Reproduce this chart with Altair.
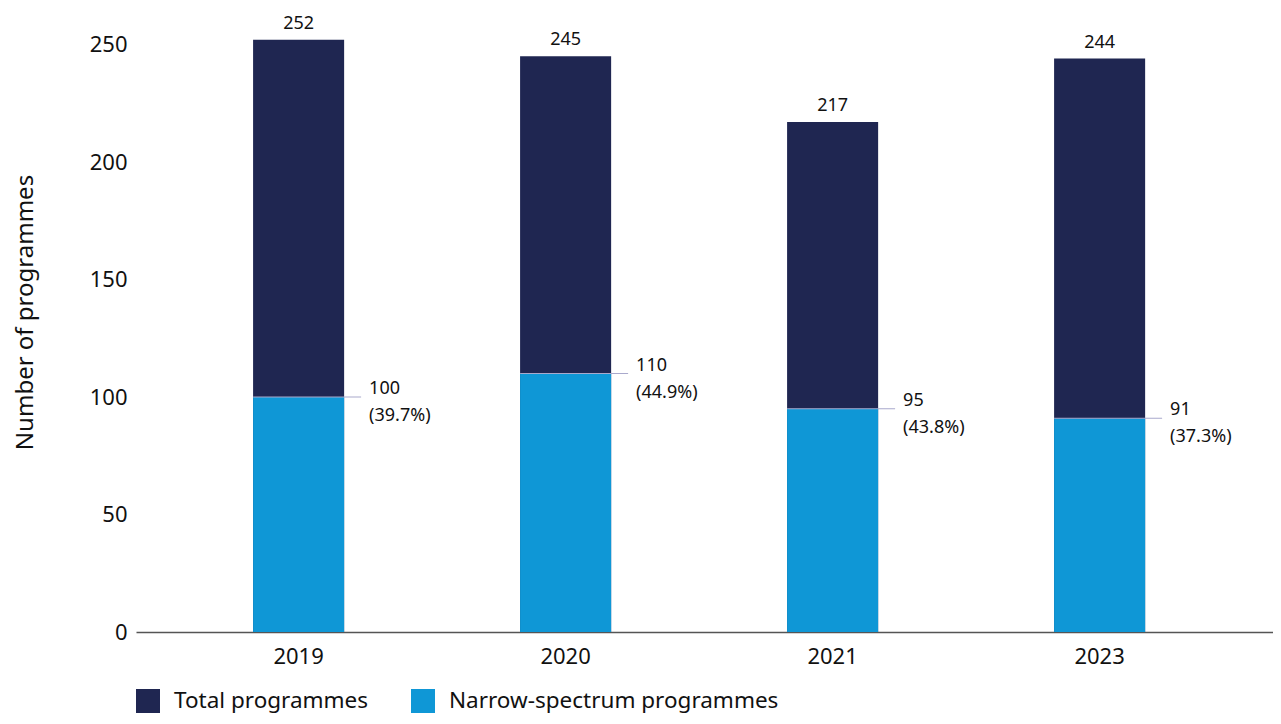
import altair as alt
import pandas as pd

years = ["2019", "2020", "2021", "2023"]
total = [252, 245, 217, 244]
narrow = [100, 110, 95, 91]
pct = ["(39.7%)", "(44.9%)", "(43.8%)", "(37.3%)"]
series = ["Total programmes", "Narrow-spectrum programmes"]
colors = ["#1f2651", "#0f97d6"]

rows = []
for y, t in zip(years, total):
    rows.append({"year": y, "series": series[0], "value": t, "ord": 0})
for y, n in zip(years, narrow):
    rows.append({"year": y, "series": series[1], "value": n, "ord": 1})
long_df = pd.DataFrame(rows)
wide_df = pd.DataFrame({"year": years, "total": total, "narrow": narrow, "pct": pct})

FONT = "Noto Sans"

x = alt.X("year:N", title=None,
          scale=alt.Scale(paddingInner=0.659, paddingOuter=0.4587, align=0.478),
          axis=alt.Axis(labelAngle=0, labelFontSize=22, labelColor="#111", labelPadding=14,
                        ticks=False, domainColor="#555", domainWidth=1.5, labelFont=FONT))
yscale = alt.Scale(domain=[0, 260], nice=False)

bars = alt.Chart(long_df).mark_bar().encode(
    x=x,
    y=alt.Y("value:Q", stack=None, scale=yscale, title="Number of programmes",
            axis=alt.Axis(values=[0, 50, 100, 150, 200, 250], grid=False, ticks=False, domain=False,
                          labelFontSize=22, labelColor="#111", labelPadding=9, labelFont=FONT,
                          titleFont=FONT, titleFontSize=24, titleFontWeight="normal",
                          titleColor="#111", titleX=-111, titleY=291, titleBaseline="middle")),
    color=alt.Color("series:N", scale=alt.Scale(domain=series, range=colors),
                    legend=alt.Legend(title=None, orient="none", legendX=0, legendY=668,
                                      direction="horizontal", symbolType="square", symbolSize=576,
                                      symbolStrokeWidth=0, labelFontSize=22.5, labelFont=FONT,
                                      labelColor="#111", labelOffset=14, columnPadding=42,
                                      symbolOpacity=1, labelLimit=600)),
    order=alt.Order("ord:Q"),
)

sep = alt.Chart(wide_df).mark_tick(orient="horizontal", size=108, thickness=1, xOffset=8.5,
                                   color="#a9a9cc", opacity=1).encode(
    x=alt.X("year:N"), y=alt.Y("narrow:Q", scale=yscale)
)

top_lbl = alt.Chart(wide_df).mark_text(baseline="bottom", dy=-7, fontSize=18, font=FONT,
                                       color="#111").encode(
    x=alt.X("year:N"), y=alt.Y("total:Q", scale=yscale), text="total:Q"
)
n_lbl = alt.Chart(wide_df).mark_text(align="left", baseline="middle", xOffset=70.5, dy=-8,
                                     fontSize=18, font=FONT, color="#111").encode(
    x=alt.X("year:N"), y=alt.Y("narrow:Q", scale=yscale), text="narrow:Q"
)
p_lbl = alt.Chart(wide_df).mark_text(align="left", baseline="middle", xOffset=70.5, dy=19,
                                     fontSize=18, font=FONT, color="#111").encode(
    x=alt.X("year:N"), y=alt.Y("narrow:Q", scale=yscale), text="pct:N"
)

chart = alt.layer(bars, sep, top_lbl, n_lbl, p_lbl).properties(
    width=1137, height=611,
    autosize=alt.AutoSizeParams(type="none"),
    padding={"left": 128, "top": 13, "right": 0, "bottom": 84},
).configure(font=FONT).configure_view(stroke=None)

chart.save("out.html", embed_options={"renderer": "svg", "actions": False})
